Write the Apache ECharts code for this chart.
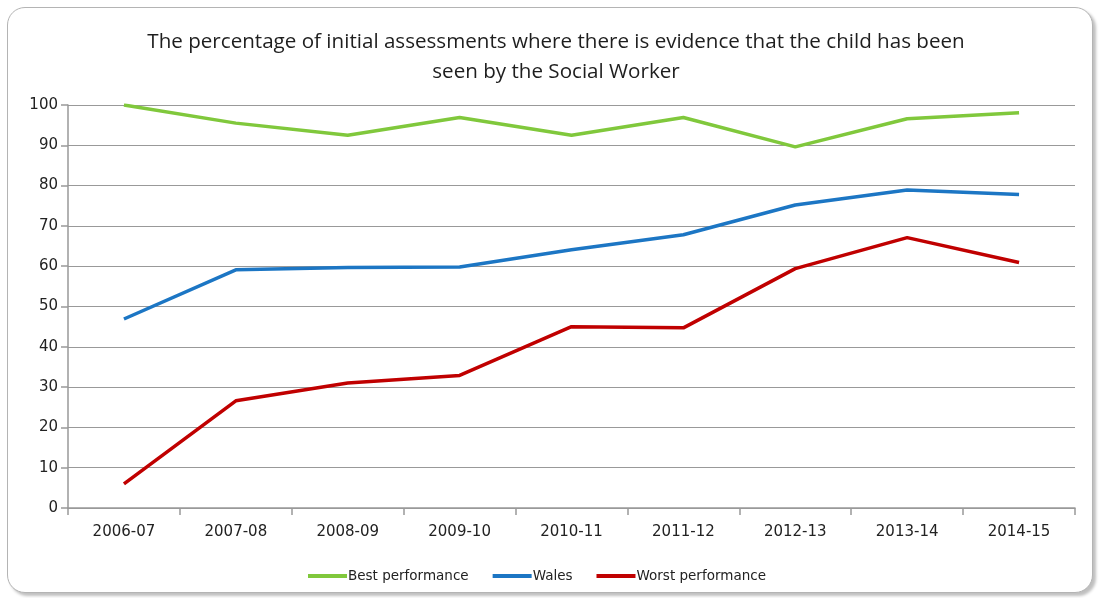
<!DOCTYPE html>
<html>
<head>
<meta charset="utf-8">
<script src="https://cdn.jsdelivr.net/npm/echarts@6/dist/echarts.min.js"></script>
<style>
  html, body { margin: 0; padding: 0; background: #fff; }
  #frame {
    position: absolute; left: 7px; top: 7px; width: 1084px; height: 584px;
    border: 1.5px solid #b4b4b4; border-radius: 18px;
    box-shadow: 3px 3px 3px rgba(0,0,0,0.25);
    background: #fff;
  }
  #myChart { position: absolute; left: 0; top: 0; width: 1101px; height: 598px; }
</style>
</head>
<body>
<div id="frame"></div>
<div id="myChart"></div>
<script>
  // data
  var years = ['2006-07', '2007-08', '2008-09', '2009-10', '2010-11', '2011-12', '2012-13', '2013-14', '2014-15'];
  var best = [100, 95.5, 92.5, 96.9, 92.5, 96.9, 89.6, 96.6, 98.1];
  var wales = [46.9, 59.1, 59.7, 59.8, 64.1, 67.8, 75.2, 78.9, 77.8];
  var worst = [6, 26.6, 31, 32.9, 45, 44.7, 59.4, 67.1, 60.9];

  var axisFont = 'Verdana, "DejaVu Sans", sans-serif';

  function lineSeries(name, data, color) {
    return {
      name: name,
      type: 'line',
      data: data,
      symbol: 'none',
      lineStyle: { width: 3.5, color: color },
      itemStyle: { color: color }
    };
  }

  var option = {
    animation: false,
    title: {
      text: 'The percentage of initial assessments where there is evidence that the child has been\nseen by the Social Worker',
      left: 551,
      textAlign: 'center',
      top: 22,
      textStyle: {
        fontFamily: '"Open Sans", sans-serif',
        fontSize: 20.6,
        fontWeight: 'normal',
        color: '#1e1e1e',
        lineHeight: 30
      }
    },
    legend: {
      top: 564,
      left: 303,
      itemWidth: 39,
      itemHeight: 4,
      itemGap: 24,
      icon: 'rect',
      textStyle: { fontFamily: axisFont, fontSize: 13.5, color: '#222', padding: [0, 0, 0, -4] },
      data: ['Best performance', 'Wales', 'Worst performance']
    },
    grid: { left: 68, right: 26, top: 105, bottom: 90 },
    xAxis: {
      type: 'category',
      data: years,
      axisLine: { lineStyle: { color: '#999', width: 1.5 } },
      axisTick: { show: true, length: 7, lineStyle: { color: '#999', width: 1.5 } },
      axisLabel: { fontFamily: axisFont, fontSize: 15, color: '#222', margin: 17 }
    },
    yAxis: {
      type: 'value',
      min: 0,
      max: 100,
      interval: 10,
      axisLine: { show: true, lineStyle: { color: '#999', width: 1.5 } },
      axisTick: { show: true, length: 7, lineStyle: { color: '#999', width: 1.5 } },
      splitLine: { lineStyle: { color: '#999', width: 1.2 } },
      axisLabel: { fontFamily: axisFont, fontSize: 15, color: '#222', margin: 10 }
    },
    series: [
      lineSeries('Best performance', best, '#80c83c'),
      lineSeries('Wales', wales, '#1c76c4'),
      lineSeries('Worst performance', worst, '#c00000')
    ]
  };

  var myChart = echarts.init(document.getElementById('myChart'));
  myChart.setOption(option);
</script>
</body>
</html>
